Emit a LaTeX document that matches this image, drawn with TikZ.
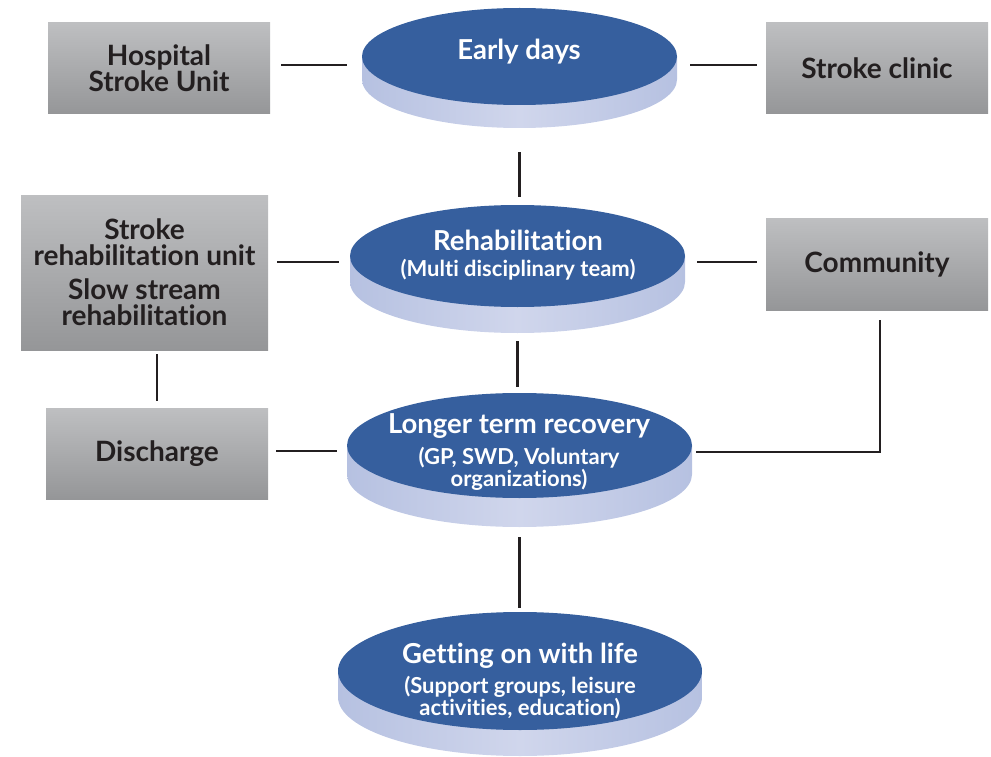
\documentclass[tikz,border=0pt]{standalone}
\usepackage{fontspec}
\setmainfont{Lato}[Ligatures={NoCommon}]
\usetikzlibrary{shapes.geometric}
\definecolor{disktopc}{RGB}{54,95,158}
\definecolor{disksidec}{RGB}{208,214,236}
\definecolor{disksided}{RGB}{182,193,225}
\definecolor{boxtop}{RGB}{190,191,193}
\definecolor{boxbot}{RGB}{149,150,152}
\definecolor{inkc}{RGB}{35,31,32}
\tikzset{
  graybox/.style={rectangle, inner sep=0pt, top color=boxtop, bottom color=boxbot,
    text=inkc, align=center, font=\bfseries\fontsize{28}{26}\selectfont},
  disktop/.style={ellipse, inner sep=0pt, fill=disktopc},
  disktext/.style={text=white, align=center, inner sep=0pt},
  conn/.style={draw=inkc, line width=2.5pt},
}
\newcommand\ttl{\bfseries\fontsize{27.5}{28}\selectfont}
\newcommand\sub{\bfseries\fontsize{22}{22}\selectfont}
\newcommand\mydisk[6]{% name, x, y, rx, ry, t
  \shade[left color=disksided, right color=disksided, middle color=disksidec]
    (#2-#4,#3) -- ++(0,-#6) arc[start angle=180,end angle=360,x radius=#4,y radius=#5]
    -- ++(0,#6) -- cycle;
  \node[disktop, minimum width=2*#4 pt, minimum height=2*#5 pt] (#1) at (#2,#3) {};
}
\begin{document}
\begin{tikzpicture}[x=1pt,y=1pt]
\useasboundingbox (0,0) rectangle (991,-757);
% disks
\mydisk{early}{519.5}{-56.5}{157.5}{48.5}{23}
\mydisk{rehab}{517.5}{-256}{167.5}{51}{26}
\mydisk{longer}{519.5}{-445.5}{172.5}{52.5}{29}
\mydisk{life}{520}{-671}{182}{59}{26}
\node[disktext] (earlyT) at (519,-52) {\ttl Early days};
\node[disktext] (rehabT) at (518,-255) {\ttl Rehabilitation\\[7pt]\sub (Multi disciplinary team)};
\node[disktext] (longerT) at (519,-452) {\ttl Longer term recovery\\[7pt]\sub (GP, SWD, Voluntary\\\sub organizations)};
\node[disktext] (lifeT) at (520,-681) {\ttl Getting on with life\\[7pt]\sub (Support groups, leisure\\\sub activities, education)};
% boxes
\node[graybox, minimum width=222pt, minimum height=91pt] (hsu) at (159,-68.5) {Hospital\\Stroke Unit};
\node[graybox, minimum width=222pt, minimum height=91pt] (clinic) at (877,-68.5) {Stroke clinic};
\node[graybox, minimum width=247pt, minimum height=155pt] (sru) at (144.5,-272.5) {Stroke\\rehabilitation unit\\[8pt]Slow stream\\rehabilitation};
\node[graybox, minimum width=222pt, minimum height=92pt] (comm) at (877,-264) {Community};
\node[graybox, minimum width=222pt, minimum height=91pt] (dis) at (157,-453.5) {Discharge};
% connectors
\draw[conn, shorten <=11pt, shorten >=15pt] ([yshift=3.5pt]hsu.east) -- ([yshift=3.5pt]hsu.east -| early.west);
\draw[conn, shorten <=13pt, shorten >=9pt] ([yshift=3.5pt]clinic.west -| early.east) -- ([yshift=3.5pt]clinic.west);
\draw[conn, shorten <=47pt, shorten >=8pt] (early.south) -- (early.south |- rehab.north);
\draw[conn, shorten <=9pt, shorten >=11pt] ([yshift=10.5pt]sru.east) -- ([yshift=10.5pt]sru.east -| rehab.west);
\draw[conn, shorten <=12pt, shorten >=9pt] ([yshift=2pt]comm.west -| rehab.east) -- ([yshift=2pt]comm.west);
\draw[conn, shorten <=34pt, shorten >=6pt] (rehab.south) -- (rehab.south |- longer.north);
\draw[conn, shorten <=4pt, shorten >=7pt] (dis.north |- sru.south) -- (dis.north);
\draw[conn, shorten <=8pt, shorten >=10pt] ([yshift=2.5pt]dis.east) -- ([yshift=2.5pt]dis.east -| longer.west);
\draw[conn, shorten <=10pt, shorten >=4pt] ([xshift=3pt]comm.south) -- ([xshift=3pt,yshift=-6.5pt]comm.south |- longer.east) -- ([yshift=-6.5pt]longer.east);
\draw[conn, shorten <=39pt, shorten >=4pt] (longer.south) -- (longer.south |- life.north);
\end{tikzpicture}
\end{document}
